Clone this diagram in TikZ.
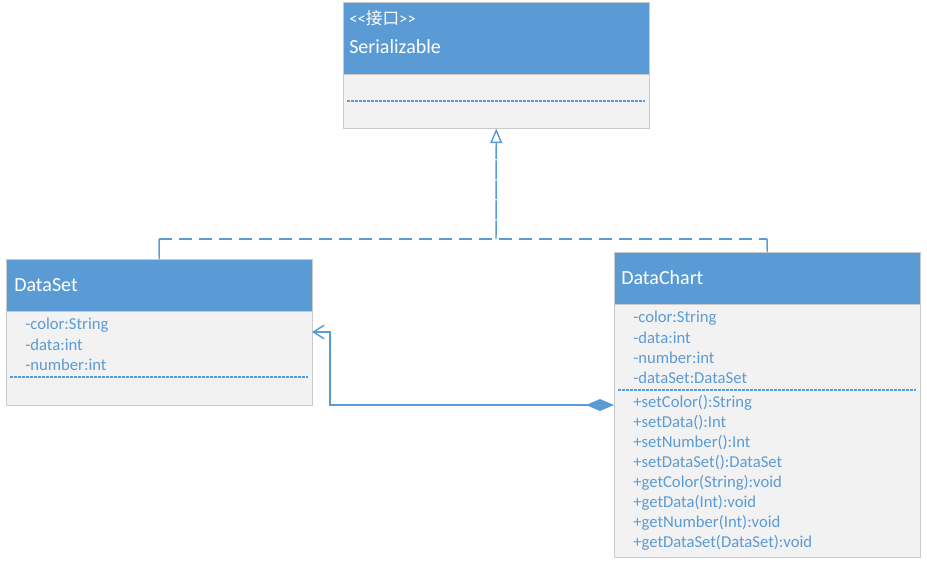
\documentclass[tikz,border=0pt]{standalone}
\usepackage{fontspec}
\setmainfont{Carlito}
\newfontfamily\cjk{Noto Sans CJK SC}
\usetikzlibrary{arrows.meta}
\definecolor{umlblue}{HTML}{5B9BD5}
\definecolor{umlgray}{HTML}{F2F2F2}
\definecolor{umledge}{HTML}{CACACA}
\tikzset{
  hdr/.style={draw=umledge, fill=umlblue, minimum width=229.5pt, inner sep=0pt, anchor=north west},
  bdy/.style={draw=umledge, fill=umlgray, minimum width=229.5pt, inner sep=0pt, anchor=north west},
  ttl/.style={text=white, font=\fontsize{15}{18}\selectfont, anchor=west, inner sep=0pt},
  mem/.style={text=umlblue, font=\fontsize{12.5}{15}\selectfont, anchor=west, inner sep=0pt},
  sep/.style={umlblue, dash pattern=on 2.2pt off 0.8pt, line width=0.8pt},
  link/.style={umlblue, line width=1.1pt},
}
\begin{document}
\begin{tikzpicture}[x=0.75pt,y=-0.75pt]
  \useasboundingbox (0,0) rectangle (927,567);

  % INTERFACE
  \node[hdr, minimum height=54pt] (ser) at (343,2) {};
  \node[bdy, minimum height=40.5pt] (serbody) at (343,74) {};
  \node[ttl] (serstereo) at (349,18) {\fontsize{12.5}{15}\selectfont{<}{<}{\cjk 接口}{>}{>}};
  \node[ttl] (sername) at (349,47) {Serializable};
  \draw[sep] (347,101) -- (645,101);

  % DATASET
  \node[hdr, minimum height=39pt] (dset) at (6,259) {};
  \node[bdy, minimum height=70.5pt] (dsetbody) at (6,311) {};
  \node[ttl] (dsetname) at (14,285) {DataSet};
  \foreach \txt [count=\i] in {{-color:String},{-data:int},{-number:int}}
    \node[mem] (dsetattr\i) at (25,305+20*\i) {\txt};
  \draw[sep] (10,377) -- (308,377);

  % DATACHART
  \node[hdr, minimum height=39pt] (dchart) at (614,252) {};
  \node[bdy, minimum height=189.75pt] (dchartbody) at (614,304) {};
  \node[ttl] (dchartname) at (621,278) {DataChart};
  \foreach \txt [count=\i] in {{-color:String},{-data:int},{-number:int},{-dataSet:DataSet}}
    \node[mem] (dchartattr\i) at (633,298+20*\i) {\txt};
  \draw[sep] (618,390) -- (916,390);
  \foreach \txt [count=\i] in {{+setColor():String},{+setData():Int},{+setNumber():Int},
      {+setDataSet():DataSet},{+getColor(String):void},{+getData(Int):void},
      {+getNumber(Int):void},{+getDataSet(DataSet):void}}
    \node[mem] (dchartop\i) at (633,383+20*\i) {\txt};

  % ARROWS
  \coordinate (lcorner) at (159,239);
  \coordinate (rcorner) at (767,239);
  \coordinate (join) at (496,239);
  \draw[link] (dset.north) -- (lcorner);
  \draw[link, dash pattern=on 9.75pt off 5.25pt] (lcorner) -- (rcorner);
  \draw[link] (rcorner) -- (dchart.north);
  \draw[link, dash pattern=on 14pt off 1pt, -{Triangle[open, length=11pt, width=9pt]}] (join) -- (serbody.south);

  \coordinate (diam) at (614,405);
  \coordinate (barb) at (312,332);
  \draw[link, {Diamond[length=21pt, width=9pt]}-{Straight Barb[length=8pt, width=10pt]}]
    (diam) -| (330,332) -- (barb);
\end{tikzpicture}
\end{document}
